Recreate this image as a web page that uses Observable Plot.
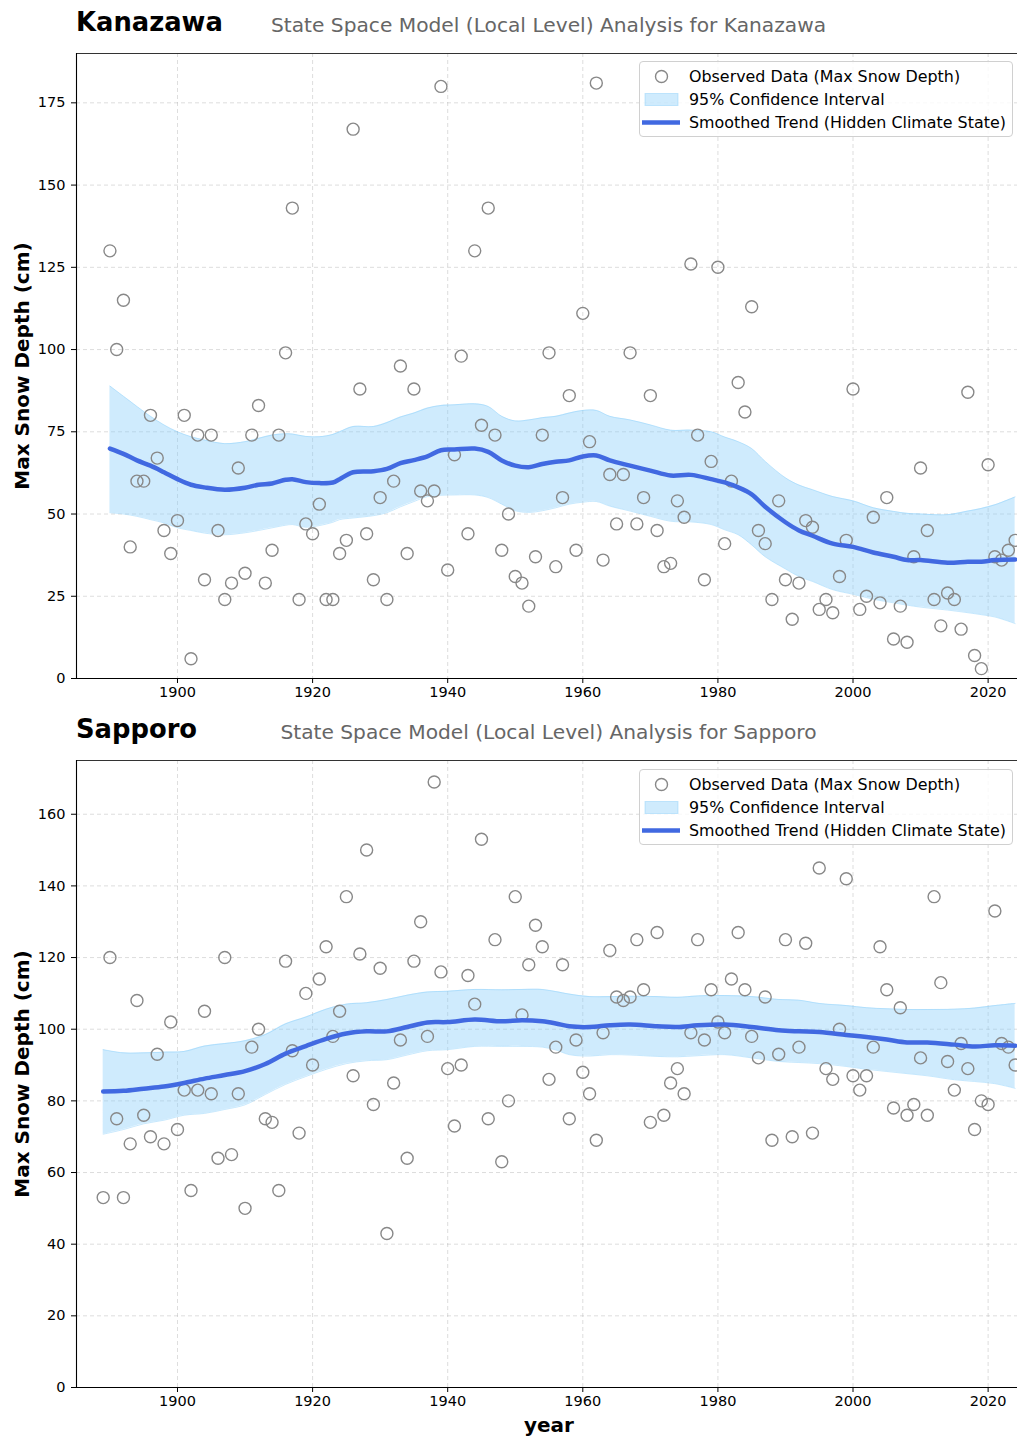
<!DOCTYPE html>
<html>
<head>
<meta charset="utf-8">
<script src="https://cdn.jsdelivr.net/npm/d3@7"></script>
<script src="https://cdn.jsdelivr.net/npm/@observablehq/plot@0.6"></script>
<style>
  body { margin: 0; background: #fff; }
  #fig { position: relative; width: 1017px; height: 1436px; overflow: hidden; font-family: "DejaVu Sans", sans-serif; }
  .ttl { position: absolute; left: 76px; font-weight: bold; font-size: 25.8px; line-height: 1; color: #000; white-space: nowrap; }
  .sub { position: absolute; left: 548.5px; transform: translateX(-50%); font-size: 20.2px; line-height: 1; color: #666; white-space: nowrap; }
  .panel { position: absolute; left: 0; }
  .legend { position: absolute; left: 639px; width: 374px; height: 76px; box-sizing: border-box; border: 1px solid #d0d0d0; border-radius: 4px; background: rgba(255,255,255,0.8); font-size: 15.9px; padding-top: 3px; color: #000; }
  .legend .row { height: 23px; display: flex; align-items: center; white-space: nowrap; }
  .legend svg { width: 47px; height: 23px; margin-left: 2px; flex: none; }
</style>
</head>
<body>
<div id="fig"></div>
<script>
// Annual maximum snow depth (cm), Kanazawa 1890-2024
const kanazawaYears = d3.range(1890, 2025);
const kanazawaDepth = [
  130, 100, 115, 40, 60, 60, 80, 67, 45, 38,
  48, 80, 6, 74, 30, 74, 45, 24, 29, 64,
  32, 74, 83, 29, 39, 74, 99, 143, 24, 47,
  44, 53, 24, 24, 38, 42, 167, 88, 44, 30,
  55, 24, 60, 95, 38, 88, 57, 54, 57, 180,
  33, 68, 98, 44, 130, 77, 143, 74, 39, 50,
  31, 29, 22, 37, 74, 99, 34, 55, 86, 39,
  111, 72, 181, 36, 62, 47, 62, 99, 47, 55,
  86, 45, 34, 35, 54, 49, 126, 74, 30, 66,
  125, 41, 60, 90, 81, 113, 45, 41, 24, 54,
  30, 18, 29, 48, 46, 21, 24, 20, 31, 42,
  88, 21, 25, 49, 23, 55, 12, 22, 11, 37,
  64, 45, 24, 16, 26, 24, 15, 87, 7, 3,
  65, 37, 36, 39, 42
];

// Smoothed local level and its 95% interval, Kanazawa
const kanazawaTrendYears = [1890, 1892, 1894, 1896, 1898, 1900, 1902, 1904, 1907, 1910, 1912, 1914, 1916, 1917, 1919, 1921, 1923, 1924, 1926, 1929, 1931, 1933, 1935, 1937, 1939, 1941, 1944, 1946, 1948, 1950, 1952, 1954, 1956, 1958, 1960, 1962, 1964, 1967, 1970, 1973, 1976, 1979, 1981, 1983, 1985, 1987, 1990, 1992, 1994, 1997, 2000, 2003, 2006, 2008, 2010, 2014, 2017, 2019, 2021, 2024];
const kanazawaTrend = [69.9, 68.3, 66.3, 64.7, 62.7, 60.6, 58.9, 58.1, 57.4, 58.0, 58.9, 59.3, 60.4, 60.6, 59.7, 59.4, 59.6, 60.6, 62.7, 63.0, 63.7, 65.5, 66.4, 67.5, 69.4, 69.6, 69.9, 68.9, 66.3, 64.7, 64.2, 65.2, 65.9, 66.3, 67.5, 67.8, 66.3, 64.7, 63.2, 61.7, 61.9, 60.6, 59.6, 58.1, 56.0, 52.2, 47.5, 45.0, 43.4, 41.0, 40.0, 38.3, 37.0, 36.0, 36.0, 35.2, 35.5, 35.5, 36.0, 36.2];
const kanazawaLower = [50.4, 50.0, 49.3, 48.3, 47.3, 45.8, 45.0, 44.2, 43.7, 44.3, 45.0, 45.8, 46.6, 46.8, 46.0, 46.5, 47.5, 48.3, 48.8, 49.5, 50.4, 52.2, 53.8, 55.3, 55.7, 55.8, 55.8, 55.0, 53.0, 51.0, 50.5, 51.0, 51.9, 53.0, 53.6, 53.8, 52.4, 50.9, 49.3, 47.8, 47.6, 46.8, 45.2, 43.7, 40.6, 37.0, 33.3, 31.0, 29.5, 27.0, 25.6, 24.1, 23.0, 22.3, 21.7, 20.8, 20.0, 19.4, 18.7, 16.7];
const kanazawaUpper = [88.9, 85.8, 82.7, 79.7, 77.1, 75.0, 73.5, 72.5, 71.4, 72.0, 73.0, 74.0, 74.4, 74.3, 73.6, 73.5, 74.2, 75.0, 76.6, 76.6, 77.8, 79.5, 80.7, 82.2, 83.0, 83.2, 83.5, 82.7, 79.7, 78.3, 78.6, 79.3, 79.7, 80.7, 81.5, 81.5, 79.7, 78.6, 77.1, 75.5, 75.5, 75.0, 73.4, 72.0, 69.9, 66.0, 61.0, 58.8, 57.4, 55.3, 54.0, 51.9, 50.8, 50.2, 50.0, 49.8, 50.9, 51.7, 52.8, 55.2];

// Annual maximum snow depth (cm), Sapporo 1889-2024
const sapporoYears = d3.range(1889, 2025);
const sapporoDepth = [
  53, 120, 75, 53, 68, 108, 76, 70, 93, 68,
  102, 72, 83, 55, 83, 105, 82, 64, 120, 65,
  82, 50, 95, 100, 75, 74, 55, 119, 94, 71,
  110, 90, 114, 123, 98, 105, 137, 87, 121, 150,
  79, 117, 43, 85, 97, 64, 119, 130, 98, 169,
  116, 89, 73, 90, 115, 107, 153, 75, 125, 63,
  80, 137, 104, 118, 129, 123, 86, 95, 118, 75,
  97, 88, 82, 69, 99, 122, 109, 108, 109, 125,
  111, 74, 127, 76, 85, 89, 82, 99, 125, 97,
  111, 102, 99, 114, 127, 111, 98, 92, 109, 69,
  93, 125, 70, 95, 124, 71, 145, 89, 86, 100,
  142, 87, 83, 87, 95, 123, 111, 78, 106, 76,
  79, 92, 76, 137, 113, 91, 83, 96, 89, 72,
  80, 79, 133, 96, 95, 90
];

// Smoothed local level and its 95% interval, Sapporo
const sapporoTrendYears = [1889, 1892, 1895, 1898, 1901, 1904, 1907, 1910, 1913, 1916, 1919, 1922, 1925, 1928, 1931, 1934, 1937, 1940, 1944, 1948, 1951, 1954, 1956, 1958, 1961, 1964, 1967, 1971, 1974, 1977, 1981, 1985, 1989, 1992, 1995, 1999, 2002, 2005, 2008, 2011, 2015, 2018, 2021, 2024];
const sapporoTrend = [82.6, 82.8, 83.4, 84.0, 85.0, 86.2, 87.2, 88.3, 90.3, 93.2, 95.3, 97.3, 98.8, 99.4, 99.4, 100.6, 101.9, 102.0, 102.7, 102.2, 102.5, 102.2, 101.6, 100.8, 100.6, 101.1, 101.3, 100.8, 100.6, 101.1, 101.3, 100.6, 99.7, 99.4, 99.2, 98.4, 97.8, 97.1, 96.3, 96.3, 95.7, 95.2, 95.5, 95.4];
const sapporoLower = [70.7, 72.0, 73.6, 74.6, 76.0, 76.5, 77.6, 78.9, 81.8, 84.6, 86.8, 88.8, 90.4, 91.2, 91.5, 92.8, 94.0, 94.3, 95.2, 95.2, 95.2, 95.0, 94.2, 92.9, 92.5, 92.9, 92.8, 92.4, 92.3, 92.6, 92.9, 92.0, 91.0, 90.7, 90.4, 89.6, 88.8, 88.2, 87.6, 87.0, 85.9, 85.4, 84.8, 83.5];
const sapporoUpper = [94.3, 93.4, 93.4, 93.6, 93.8, 95.3, 96.0, 96.8, 98.5, 101.5, 103.4, 105.6, 107.0, 107.4, 108.3, 109.5, 110.4, 110.6, 111.1, 111.0, 111.1, 111.1, 110.5, 109.8, 109.1, 109.1, 109.2, 109.1, 108.9, 109.3, 109.4, 109.1, 108.3, 108.1, 107.2, 106.6, 106.0, 105.7, 105.5, 105.5, 105.6, 105.9, 106.6, 107.2];

// Axis ticks
const yearTicks = [1900, 1920, 1940, 1960, 1980, 2000, 2020];
const kanazawaDepthTicks = [0, 25, 50, 75, 100, 125, 150, 175];
const sapporoDepthTicks = [0, 20, 40, 60, 80, 100, 120, 140, 160];

// Legend entries
const legendLabels = ["Observed Data (Max Snow Depth)", "95% Confidence Interval", "Smoothed Trend (Hidden Climate State)"];

const POINT = "#888888";
const BAND = "#87cefa";
const TREND = "#4169e1";
const GRID = {stroke: "#b0b0b0", strokeOpacity: 0.55, strokeWidth: 0.8, strokeDasharray: "4,3"};
const X_DOMAIN = [1885.05, 2024.35];

function snowPanel({years, depth, tYears, trend, lower, upper, yMax, yTicks, height, marginTop, marginBottom, xLabel}) {
  const obs = years.map((year, i) => ({year, depth: depth[i]}));
  const level = tYears.map((year, i) => ({year, mean: trend[i], lo: lower[i], hi: upper[i]}));
  const curve = "catmull-rom";
  const marks = [
    Plot.gridX(yearTicks, GRID),
    Plot.gridY(yTicks, GRID),
    Plot.areaY(level, {x: "year", y1: "lo", y2: "hi", fill: BAND, fillOpacity: 0.4, curve}),
    Plot.line(level, {x: "year", y: "lo", stroke: BAND, strokeOpacity: 0.45, strokeWidth: 1, curve}),
    Plot.line(level, {x: "year", y: "hi", stroke: BAND, strokeOpacity: 0.45, strokeWidth: 1, curve}),
    Plot.dot(obs, {x: "year", y: "depth", r: 6, fill: "none", stroke: POINT, strokeWidth: 1.4}),
    Plot.line(level, {x: "year", y: "mean", stroke: TREND, strokeWidth: 4.5, curve}),
    Plot.axisX({ticks: yearTicks, tickSize: 5, tickPadding: 3, tickFormat: d => String(d), label: null, fontSize: 14.5}),
    Plot.axisY({ticks: yTicks, tickSize: 5, tickPadding: 6, tickFormat: d => String(d), label: null, fontSize: 14.5}),
    Plot.ruleY([yMax], {stroke: "#333", strokeWidth: 1}),
    Plot.ruleX([X_DOMAIN[0]], {stroke: "#000", strokeWidth: 1.1}),
    Plot.ruleY([0], {stroke: "#000", strokeWidth: 1.1}),
    Plot.text(["Max Snow Depth (cm)"], {frameAnchor: "left", textAnchor: "middle", lineAnchor: "middle", rotate: -90, dx: -54, fontWeight: "bold", fontSize: 20, fill: "#000"})
  ];
  if (xLabel) {
    marks.push(Plot.text([xLabel], {frameAnchor: "bottom", textAnchor: "middle", lineAnchor: "middle", dx: 2, dy: 38, fontWeight: "bold", fontSize: 20, fill: "#000"}));
  }
  return Plot.plot({
    width: 1017,
    height,
    marginLeft: 76,
    marginRight: 0,
    marginTop,
    marginBottom,
    style: {fontFamily: "DejaVu Sans, sans-serif", fontSize: "14.5px", color: "#000", background: "transparent", overflow: "visible"},
    x: {domain: X_DOMAIN},
    y: {domain: [0, yMax]},
    marks
  });
}

function legendBox(top) {
  const box = document.createElement("div");
  box.className = "legend";
  box.style.top = top + "px";
  const symbols = [
    `<circle cx="19.5" cy="11.5" r="6" fill="none" stroke="${POINT}" stroke-width="1.4"/>`,
    `<rect x="3" y="5.5" width="33" height="12" fill="${BAND}" fill-opacity="0.4" stroke="${BAND}" stroke-opacity="0.45"/>`,
    `<line x1="0" x2="38" y1="11.5" y2="11.5" stroke="${TREND}" stroke-width="4.5"/>`
  ];
  legendLabels.forEach((label, i) => {
    const row = document.createElement("div");
    row.className = "row";
    row.innerHTML = `<svg viewBox="0 0 47 23">${symbols[i]}</svg><span>${label}</span>`;
    box.appendChild(row);
  });
  return box;
}

function addText(cls, text, top) {
  const el = document.createElement("div");
  el.className = cls;
  el.textContent = text;
  el.style.top = top + "px";
  fig.appendChild(el);
}

const fig = document.getElementById("fig");

// Kanazawa
addText("ttl", "Kanazawa", 10);
addText("sub", "State Space Model (Local Level) Analysis for Kanazawa", 15);
const p1 = snowPanel({
  years: kanazawaYears, depth: kanazawaDepth,
  tYears: kanazawaTrendYears, trend: kanazawaTrend, lower: kanazawaLower, upper: kanazawaUpper,
  yMax: 190, yTicks: kanazawaDepthTicks,
  height: 665, marginTop: 9, marginBottom: 31
});
p1.classList.add("panel");
p1.style.top = "44px";
fig.appendChild(p1);
fig.appendChild(legendBox(61));

// Sapporo
addText("ttl", "Sapporo", 717);
addText("sub", "State Space Model (Local Level) Analysis for Sapporo", 721.5);
const p2 = snowPanel({
  years: sapporoYears, depth: sapporoDepth,
  tYears: sapporoTrendYears, trend: sapporoTrend, lower: sapporoLower, upper: sapporoUpper,
  yMax: 175, yTicks: sapporoDepthTicks,
  height: 686, marginTop: 10, marginBottom: 49, xLabel: "year"
});
p2.classList.add("panel");
p2.style.top = "750px";
fig.appendChild(p2);
fig.appendChild(legendBox(769));
</script>
</body>
</html>
